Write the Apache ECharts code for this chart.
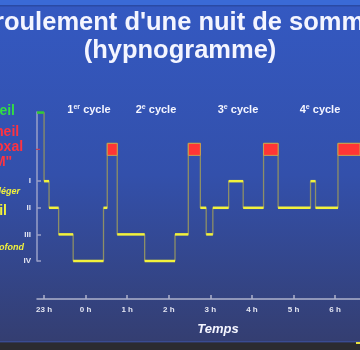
<!DOCTYPE html>
<html><head><meta charset="utf-8">
<script src="https://cdn.jsdelivr.net/npm/echarts@6/dist/echarts.min.js"></script>
<style>html,body{margin:0;padding:0;background:#2b2b30}#c{width:360px;height:350px}</style>
</head><body><div id="c"></div>
<script>
// Hypnogram data: stage of each segment and its start time (hours after 23 h)
const stages = ['W','I','II','III','IV','II','R','III','IV','III','R','II','III','II','I','II','R','II','I','II','R'];
const startHours = [-0.17,0.00,0.12,0.35,0.70,1.43,1.52,1.76,2.42,3.15,3.47,3.76,3.90,4.06,4.44,4.79,5.28,5.63,6.41,6.53,7.07];
const endHour = 7.6;
const xTickHours = [0,1,2,3,4,5,6,7];
const stageLevels = ['IV','III','II','I'];        // y-axis tick labels (bottom to top)
const cycleNames = [['1','er'],['2','e'],['3','e'],['4','e']];

const levelOf = {IV:0, III:1, II:2, I:3, R:4.42, W:5.58};
const remBottom = 3.97;

const segData = stages.map((s,i)=>[startHours[i], i+1<startHours.length ? startHours[i+1] : endHour, i]);
const connector = [];
stages.forEach((s,i)=>{ const y = levelOf[s]; connector.push([segData[i][0], y], [segData[i][1], y]); });

const chart = echarts.init(document.getElementById('c'), null, {renderer:'canvas'});
const F = 'Liberation Sans, Arial, sans-serif';
const cycleX = [89,156,238,320];

const option = {
  animation:false,
  backgroundColor:{type:'linear',x:0,y:0,x2:0,y2:1,colorStops:[{offset:0,color:'#3459c2'},{offset:0.5,color:'#3350ab'},{offset:1,color:'#343d6e'}]},
  grid:{left:37, right:-8, top:112, bottom:89},
  xAxis:{type:'value', min:-0.17, max:endHour, offset:38,
    splitLine:{show:false},
    axisLine:{show:true, onZero:false, lineStyle:{color:'#aeb3cc', width:1.5}},
    axisTick:{show:true, inside:true, length:4, customValues:xTickHours, lineStyle:{color:'#aeb3cc', width:1.5}},
    axisLabel:{customValues:xTickHours, margin:7, color:'#e4e6f2', fontSize:8, fontWeight:'bold', fontFamily:F,
      formatter:v=>((23+Math.round(v))%24)+' h'}
  },
  yAxis:{type:'value', min:0, max:5.6,
    splitLine:{show:false},
    axisLine:{show:true, onZero:false, lineStyle:{color:'#9aa0c8', width:1.5}},
    axisTick:{show:true, inside:true, length:4, customValues:[0,1,2,3], lineStyle:{color:'#9aa0c8', width:1.5}},
    axisLabel:{customValues:[0,1,2,3], margin:6, color:'#e4e6f2', fontSize:8, fontWeight:'bold', fontFamily:F,
      formatter:v=>stageLevels[Math.round(v)]}
  },
  series:[
    {type:'line', data:connector, symbol:'none', z:2, lineStyle:{color:'#8d8f66', width:1.3}},
    {type:'custom', data:segData, z:3, encode:{x:[0,1]},
      renderItem:function(params, api){
        const i = api.value(2), s = stages[i];
        const x0 = api.value(0), x1 = api.value(1);
        if (s === 'R') {
          const p0 = api.coord([x0, levelOf.R]), p1 = api.coord([x1, remBottom]);
          return {type:'rect', shape:{x:p0[0], y:p0[1], width:p1[0]-p0[0], height:p1[1]-p0[1]},
            style:{fill:'#ff3535', stroke:'#c9a24e', lineWidth:1}};
        }
        const p0 = api.coord([x0, levelOf[s]]), p1 = api.coord([x1, levelOf[s]]);
        return {type:'line', shape:{x1:p0[0], y1:p0[1], x2:p1[0], y2:p1[1]},
          style:{stroke: s==='W' ? '#33cc33' : '#f2f23c', lineWidth:2.5}};
      }
    }
  ],
  graphic:[
    {type:'rect', shape:{x:0,y:0,width:360,height:5}, style:{fill:'#3a6ad6'}, z:10},
    {type:'rect', shape:{x:0,y:5,width:360,height:1.5}, style:{fill:'#2a4aa4'}, z:10},
    {type:'rect', shape:{x:0,y:341,width:360,height:1.5}, style:{fill:'#3a4c92'}, z:10},
    {type:'rect', shape:{x:0,y:342.5,width:360,height:8}, style:{fill:'#2b2b30'}, z:10},
    {type:'rect', shape:{x:356,y:342,width:4,height:2}, style:{fill:'#e8e040'}, z:11},
    {type:'text', x:177, y:36, style:{text:"Déroulement d'une nuit de sommeil", fill:'#f4f5ff', font:'bold 25.5px '+F, textAlign:'center', textVerticalAlign:'bottom'}},
    {type:'text', x:180, y:64, style:{text:"(hypnogramme)", fill:'#f4f5ff', font:'bold 25.5px '+F, textAlign:'center', textVerticalAlign:'bottom'}},
    {type:'text', x:15, y:111, style:{text:'Éveil', fill:'#33dd44', font:'bold 14px '+F, textAlign:'right', textVerticalAlign:'middle'}},
    {type:'text', x:-10, y:132, style:{text:'Sommeil', fill:'#ff3340', font:'bold 14px '+F, textAlign:'center', textVerticalAlign:'middle'}},
    {type:'text', x:-10, y:147, style:{text:'paradoxal', fill:'#ff3340', font:'bold 14px '+F, textAlign:'center', textVerticalAlign:'middle'}},
    {type:'text', x:-10, y:162, style:{text:'"REM"', fill:'#ff3340', font:'bold 14px '+F, textAlign:'center', textVerticalAlign:'middle'}},
    {type:'text', x:20, y:192, style:{text:'Sommeil léger', fill:'#f2f23c', font:'italic bold 9px '+F, textAlign:'right', textVerticalAlign:'middle'}},
    {type:'text', x:7, y:211, style:{text:'Sommeil', fill:'#f2f23c', font:'bold 14px '+F, textAlign:'right', textVerticalAlign:'middle'}},
    {type:'text', x:24, y:248, style:{text:'Sommeil profond', fill:'#f2f23c', font:'italic bold 9px '+F, textAlign:'right', textVerticalAlign:'middle'}},
    {type:'text', x:218, y:329, style:{text:'Temps', fill:'#f4f5ff', font:'italic bold 13px '+F, textAlign:'center', textVerticalAlign:'middle'}}
  ].concat(cycleNames.map((c,k)=>({type:'text', x:cycleX[k], y:110,
    style:{text:'{n|'+c[0]+'}{s|'+c[1]+'}{n| cycle}', textAlign:'center', textVerticalAlign:'middle',
      rich:{n:{fill:'#f4f5ff', font:'bold 11px '+F}, s:{fill:'#f4f5ff', font:'bold 7px '+F, verticalAlign:'top', padding:[0,0,5,0]}}}})))
};
chart.setOption(option);
const remMid = chart.convertToPixel({gridIndex:0}, [0, (levelOf.R+remBottom)/2]);
const axisX = chart.convertToPixel({gridIndex:0}, [-0.17, 0]);
chart.setOption({graphic:option.graphic.concat([{type:'line', shape:{x1:axisX[0]-1,y1:remMid[1],x2:axisX[0]+3,y2:remMid[1]}, style:{stroke:'#c04058', lineWidth:1.2}, z:5}])});
</script></body></html>
